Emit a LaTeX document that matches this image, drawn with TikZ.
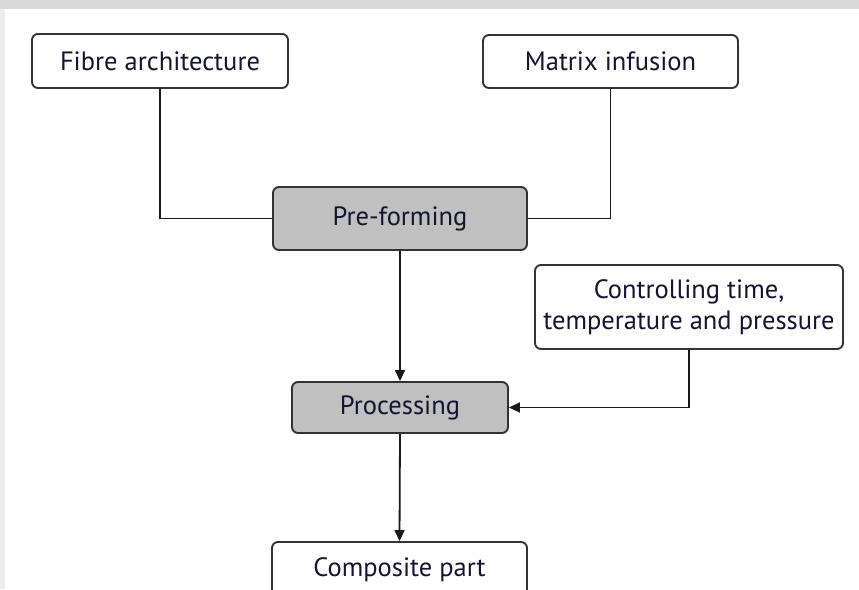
\documentclass[tikz,border=0pt]{standalone}
\usepackage{fontspec}
\setmainfont{PT Sans}
\usetikzlibrary{arrows.meta}
\definecolor{boxline}{HTML}{333333}
\definecolor{graybox}{HTML}{C0C0C0}
\definecolor{txt}{HTML}{141430}
\definecolor{wm}{HTML}{D9D9D9}
\definecolor{wmlight}{HTML}{EDEDED}
\begin{document}
\begin{tikzpicture}[x=1pt,y=-1pt,
  box/.style={draw=boxline, line width=1.9pt, rounded corners=6pt, fill=white,
    text=txt, font=\fontsize{26.5}{31}\selectfont, inner sep=0pt, align=center},
  grey/.style={box, fill=graybox},
  conn/.style={line width=1.8pt, draw=black!90},
  arr/.style={conn, -{Triangle[length=11pt,width=10pt]}}]
\useasboundingbox (0,0) rectangle (859,589);
\clip (0,0) rectangle (859,589);
\fill[wm] (0,0) rectangle (859,9);
\fill[wmlight] (0,9) rectangle (5,589);
\node[box, minimum width=256pt, minimum height=54pt] (fibre) at (160,61) {Fibre architecture};
\node[box, minimum width=255pt, minimum height=53pt] (matrix) at (610.5,61.5) {Matrix infusion};
\node[grey, minimum width=254pt, minimum height=63pt] (pre) at (400,218.5) {Pre-forming};
\node[box, minimum width=308pt, minimum height=84pt] (ctrl) at (689,307) {Controlling time,\\temperature and pressure};
\node[grey, minimum width=216pt, minimum height=51pt] (proc) at (400,407.5) {Processing};
\node[box, minimum width=255pt, minimum height=56pt] (comp) at (399.5,570) {Composite part};
\draw[conn] (fibre.south) |- (pre.west);
\draw[conn] (matrix.south) |- (pre.east);
\draw[arr] (pre.south) -- (proc.north);
\draw[arr] (ctrl.south) |- (proc.east);
\draw[arr] (proc.south) -- (comp.north);
\end{tikzpicture}
\end{document}
